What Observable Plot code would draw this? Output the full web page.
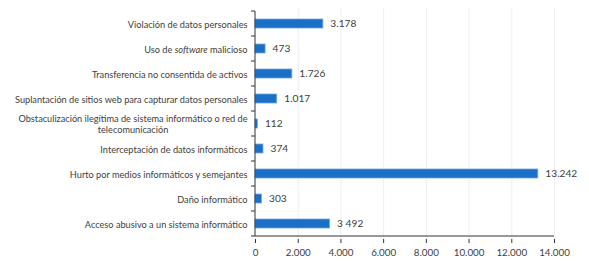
<!DOCTYPE html>
<html>
<head>
<meta charset="utf-8">
<script src="https://cdn.jsdelivr.net/npm/d3@7"></script>
<script src="https://cdn.jsdelivr.net/npm/@observablehq/plot@0.6"></script>
<style>
  html, body { margin: 0; padding: 0; background: #fff; }
  #chart svg { display: block; }
</style>
</head>
<body>
<div id="chart"></div>
<script>
const categories = [
  "Violación de datos personales",
  "Uso de software malicioso",
  "Transferencia no consentida de activos",
  "Suplantación de sitios web para capturar datos personales",
  "Obstaculización ilegítima de sistema informático o red de\ntelecomunicación",
  "Interceptación de datos informáticos",
  "Hurto por medios informáticos y semejantes",
  "Daño informático",
  "Acceso abusivo a un sistema informático"
];
const values = [3178, 473, 1726, 1017, 112, 374, 13242, 303, 3492];
const valueLabels = ["3.178", "473", "1.726", "1.017", "112", "374", "13.242", "303", "3 492"];
const xTicks = [0, 2000, 4000, 6000, 8000, 10000, 12000, 14000];
const xTickLabels = ["0", "2.000", "4.000", "6.000", "8.000", "10.000", "12.000", "14.000"];

const data = categories.map((c, i) => ({cat: c, value: values[i], label: valueLabels[i]}));
const textColor = "#404040";
const axisColor = "#333333";

// axis lines + band-boundary ticks on the y axis (Excel-style category ticks)
function axesFrame(index, scales, values, dimensions) {
  const g = d3.create("svg:g");
  const y = scales.y, x = scales.x;
  const step = y.step();
  const x0 = x(0);
  const dom = y.domain();
  const positions = dom.map(d => y(d) - (step - y.bandwidth()) / 2);
  positions.push(positions[positions.length - 1] + step);
  const yTop = positions[0], yBot = positions[positions.length - 1];
  for (const p of positions) {
    g.append("line")
      .attr("x1", x0 - 4).attr("x2", x0)
      .attr("y1", p).attr("y2", p)
      .attr("stroke", axisColor).attr("stroke-width", 1);
  }
  g.append("line").attr("x1", x0).attr("x2", x0).attr("y1", yTop).attr("y2", yBot)
    .attr("stroke", axisColor);
  g.append("line").attr("x1", x0).attr("x2", x(14000)).attr("y1", yBot).attr("y2", yBot)
    .attr("stroke", axisColor);
  return g.node();
}

const plot = Plot.plot({
  width: 589,
  height: 270,
  marginLeft: 255,
  marginRight: 35,
  marginTop: 8,
  marginBottom: 31,
  style: {fontFamily: "Lato, 'Open Sans', sans-serif", fontSize: "9.2px", color: textColor, background: "#fff"},
  x: {domain: [0, 14000], ticks: xTicks, label: null},
  y: {domain: categories, paddingInner: 0.65, paddingOuter: 0.325, label: null},
  marks: [
    Plot.ruleX(xTicks.slice(1), {stroke: "#eeeeee", strokeWidth: 1}),
    Plot.barX(data, {y: "cat", x: "value", fill: "#1a6fc6", stroke: "#74a9e2", strokeWidth: 0.8}),
    Plot.text(data, {y: "cat", x: "value", text: "label", textAnchor: "start", dx: 7, fill: textColor, fontSize: 10.2}),
    Plot.axisX({ticks: xTicks, tickFormat: (d) => xTickLabels[xTicks.indexOf(d)], tickSize: 4, tickPadding: 6, stroke: axisColor, fill: textColor, fontSize: 9.8, label: null}),
    Plot.axisY({tickSize: 0, tickPadding: 8, fill: textColor, fontSize: 9.2, label: null, lineHeight: 1.2, textOverflow: null}),
    axesFrame
  ]
});

document.getElementById("chart").appendChild(plot);

// Post-process y-axis labels: italicize "software", center the wrapped label
d3.select(plot).selectAll("text").each(function() {
  const t = this;
  const tspans = t.querySelectorAll("tspan");
  const full = t.textContent;
  if (full === "Uso de software malicioso") {
    t.textContent = "";
    const parts = [["Uso de ", null], ["software", "italic"], [" malicioso", null]];
    for (const [s, st] of parts) {
      const ts = document.createElementNS("http://www.w3.org/2000/svg", "tspan");
      ts.textContent = s;
      if (st) ts.setAttribute("font-style", st);
      t.appendChild(ts);
    }
  }
  if (tspans.length > 1 && full.startsWith("Obstaculizaci")) {
    const bb = t.getBBox();
    const cx = bb.x + bb.width / 2;
    t.setAttribute("text-anchor", "middle");
    tspans.forEach(ts => ts.setAttribute("x", cx));
  }
});
</script>
</body>
</html>
